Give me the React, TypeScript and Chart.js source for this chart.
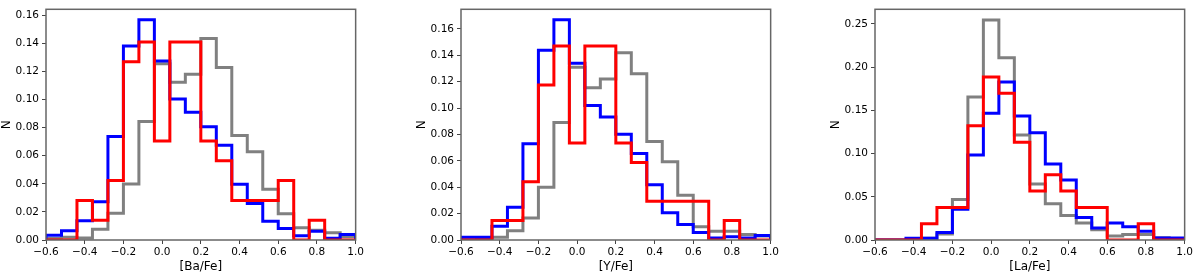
import React, { useEffect, useRef } from "react";
import { Chart, registerables } from "chart.js";

Chart.register(...registerables);

// Histogram bin edges (shared by all panels)
const binEdges = [
  -0.6, -0.52, -0.44, -0.36, -0.28, -0.2, -0.12, -0.04, 0.04, 0.12, 0.2,
  0.28, 0.36, 0.44, 0.52, 0.6, 0.68, 0.76, 0.84, 0.92, 1.0,
];

const xTicks = [-0.6, -0.4, -0.2, 0.0, 0.2, 0.4, 0.6, 0.8, 1.0];

// Panel 1: [Ba/Fe]
const baBlue = [0.0033, 0.0065, 0.0137, 0.0272, 0.0736, 0.138, 0.1567, 0.1274, 0.1004, 0.091, 0.0806, 0.0675, 0.0396, 0.026, 0.0133, 0.0082, 0.003, 0.0063, 0.0012, 0.004];
const baGray = [0.001, 0.002, 0.0014, 0.0077, 0.019, 0.0398, 0.0843, 0.1255, 0.1122, 0.118, 0.1435, 0.1227, 0.0743, 0.0629, 0.0361, 0.0186, 0.0088, 0.007, 0.0051, 0.0023];
const baRed = [0, 0, 0.0282, 0.0141, 0.0423, 0.1269, 0.141, 0.0705, 0.141, 0.141, 0.0705, 0.0564, 0.0282, 0.0282, 0.0282, 0.0423, 0, 0.0141, 0, 0];
const baYTicks = [0, 0.02, 0.04, 0.06, 0.08, 0.1, 0.12, 0.14, 0.16];

// Panel 2: [Y/Fe]
const yBlue = [0.002, 0.002, 0.0104, 0.0248, 0.0729, 0.1439, 0.167, 0.134, 0.102, 0.0933, 0.0801, 0.0655, 0.0419, 0.0206, 0.0117, 0.0057, 0.0015, 0.0025, 0.0015, 0.0035];
const yGray = [0, 0.0005, 0.002, 0.007, 0.0166, 0.04, 0.089, 0.131, 0.1154, 0.122, 0.142, 0.126, 0.0747, 0.0593, 0.034, 0.01, 0.0067, 0.0067, 0.0042, 0.003];
const yRed = [0, 0, 0.0147, 0.0147, 0.0441, 0.1176, 0.147, 0.0735, 0.147, 0.147, 0.0735, 0.0588, 0.0294, 0.0294, 0.0294, 0.0294, 0, 0.0147, 0, 0];
const yYTicks = [0, 0.02, 0.04, 0.06, 0.08, 0.1, 0.12, 0.14, 0.16];

// Panel 3: [La/Fe]
const laBlue = [0, 0, 0.002, 0.002, 0.0087, 0.0356, 0.0985, 0.1466, 0.183, 0.1436, 0.124, 0.0879, 0.0693, 0.026, 0.014, 0.0197, 0.0152, 0.0102, 0.0023, 0.0023];
const laGray = [0, 0, 0, 0.002, 0.007, 0.047, 0.1655, 0.2545, 0.211, 0.1216, 0.0648, 0.042, 0.0284, 0.0197, 0.012, 0.0045, 0.0064, 0.0064, 0.0027, 0.001];
const laRed = [0, 0, 0, 0.0189, 0.0377, 0.0377, 0.1321, 0.1887, 0.1698, 0.1132, 0.0566, 0.0755, 0.0566, 0.0377, 0.0377, 0, 0, 0.0189, 0, 0];
const laYTicks = [0, 0.05, 0.1, 0.15, 0.2, 0.25];

const panels = [
  { label: "[Ba/Fe]", blue: baBlue, gray: baGray, red: baRed, yTicks: baYTicks, yMax: 0.1642, left: 0 },
  { label: "[Y/Fe]", blue: yBlue, gray: yGray, red: yRed, yTicks: yYTicks, yMax: 0.1749, left: 415 },
  { label: "[La/Fe]", blue: laBlue, gray: laGray, red: laRed, yTicks: laYTicks, yMax: 0.267, left: 829 },
];

const FONT = "'DejaVu Sans', sans-serif";
const CANVAS_W = 366;
const CANVAS_H = 274;

function stepPoints(values: number[]) {
  const pts: { x: number; y: number }[] = [{ x: binEdges[0], y: 0 }];
  values.forEach((v, i) => pts.push({ x: binEdges[i], y: v }));
  const last = binEdges[binEdges.length - 1];
  pts.push({ x: last, y: values[values.length - 1] });
  pts.push({ x: last, y: 0 });
  return pts;
}

const framePlugin = {
  id: "frame",
  afterDraw(chart: any) {
    const { ctx, chartArea } = chart;
    ctx.save();
    ctx.strokeStyle = "#666";
    ctx.lineWidth = 1.5;
    ctx.strokeRect(chartArea.left, chartArea.top, chartArea.right - chartArea.left, chartArea.bottom - chartArea.top);
    ctx.restore();
  },
};

function Panel({ p }: { p: (typeof panels)[number] }) {
  const ref = useRef<HTMLCanvasElement | null>(null);
  useEffect(() => {
    if (!ref.current) return;
    const mk = (data: number[], color: string, order: number) => ({
      data: stepPoints(data),
      borderColor: color,
      borderWidth: 3,
      pointRadius: 0,
      fill: false,
      stepped: "before" as const,
      order,
    });
    const chart = new Chart(ref.current, {
      type: "line",
      data: {
        datasets: [mk(p.red, "#ff0000", 0), mk(p.blue, "#0000ff", 1), mk(p.gray, "#808080", 2)],
      },
      plugins: [framePlugin],
      options: {
        animation: false,
        responsive: false,
        devicePixelRatio: 1,
        layout: { padding: { left: 0, right: 4, top: 5, bottom: 0 } },
        plugins: { legend: { display: false }, tooltip: { enabled: false } },
        scales: {
          x: {
            type: "linear",
            min: -0.6,
            max: 1.0,
            afterBuildTicks: (s: any) => {
              s.ticks = xTicks.map((v) => ({ value: v }));
            },
            afterFit: (s: any) => {
              s.height = 34;
            },
            ticks: {
              autoSkip: false,
              maxRotation: 0,
              padding: 2,
              color: "#000",
              font: { family: FONT, size: 10.5 },
              callback: (v: any) => Number(v).toFixed(1).replace("-", "\u2212"),
            },
            grid: { display: true, drawOnChartArea: false, drawTicks: true, tickLength: 4, color: "#444" },
            border: { display: false },
            title: { display: true, text: p.label, color: "#000", padding: 0, font: { family: FONT, size: 12 } },
          },
          y: {
            type: "linear",
            min: 0,
            max: p.yMax,
            afterBuildTicks: (s: any) => {
              s.ticks = p.yTicks.map((v) => ({ value: v }));
            },
            afterFit: (s: any) => {
              s.width = 46;
            },
            ticks: {
              padding: 3,
              color: "#000",
              font: { family: FONT, size: 10.5 },
              callback: (v: any) => Number(v).toFixed(2),
            },
            grid: { display: true, drawOnChartArea: false, drawTicks: true, tickLength: 4, color: "#444" },
            border: { display: false },
            title: { display: true, text: "N", color: "#000", padding: 0, font: { family: FONT, size: 12 } },
          },
        },
      },
    });
    return () => chart.destroy();
  }, [p]);
  return (
    <canvas
      ref={ref}
      width={CANVAS_W}
      height={CANVAS_H}
      style={{ position: "absolute", left: p.left, top: 0, width: CANVAS_W, height: CANVAS_H }}
    />
  );
}

export default function App() {
  return (
    <div style={{ position: "fixed", left: 0, top: 0, width: 1200, height: 274, background: "#fff", overflow: "hidden" }}>
      {panels.map((p) => (
        <Panel key={p.label} p={p} />
      ))}
    </div>
  );
}
